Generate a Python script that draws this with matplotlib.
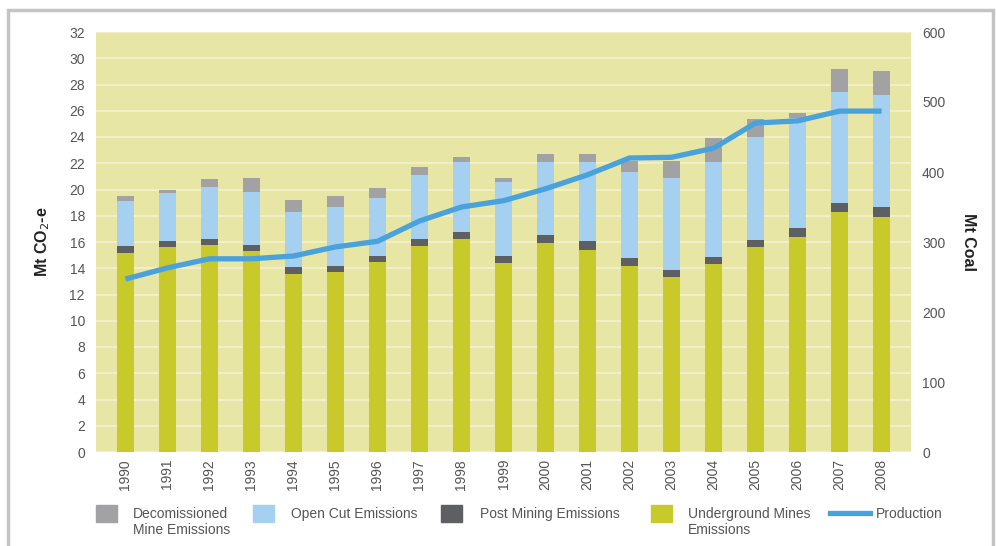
import matplotlib.pyplot as plt
from matplotlib.patches import Rectangle
from matplotlib.lines import Line2D
import numpy as np

plt.rcParams['font.family'] = ['Liberation Sans', 'DejaVu Sans']

years = [str(y) for y in range(1990, 2009)]
# stacked emission components (Mt CO2-e)
underground = [15.2, 15.6, 15.8, 15.3, 13.6, 13.7, 14.5, 15.7, 16.2, 14.4,
               15.9, 15.4, 14.2, 13.3, 14.3, 15.6, 16.4, 18.3, 17.9]
post_mining = [0.5, 0.45, 0.45, 0.45, 0.5, 0.5, 0.45, 0.5, 0.6, 0.5,
               0.6, 0.65, 0.6, 0.6, 0.55, 0.55, 0.65, 0.65, 0.75]
open_cut = [3.4, 3.65, 3.95, 4.05, 4.2, 4.5, 4.4, 4.9, 5.3, 5.7,
            5.6, 6.05, 6.5, 7.0, 7.25, 7.85, 8.4, 8.45, 8.55]
decommissioned = [0.4, 0.25, 0.6, 1.1, 0.9, 0.8, 0.75, 0.6, 0.4, 0.3,
                  0.6, 0.6, 0.9, 1.3, 1.8, 1.35, 0.35, 1.8, 1.8]
production = [247, 263, 276, 276, 280, 293, 301, 330, 350, 359,
              376, 396, 420, 421, 434, 470, 473, 487, 487]

legend_labels = ['Decomissioned\nMine Emissions', 'Open Cut Emissions',
                 'Post Mining Emissions', 'Underground Mines\nEmissions', 'Production']

c_ug = '#c8ca2c'
c_post = '#5e5f62'
c_open = '#a5d0ef'
c_decom = '#a2a2a4'
c_prod = '#4aa2dc'
c_text = '#555555'

fig = plt.figure(figsize=(9.96, 5.46), dpi=100)

# outer grey frame
fig.patches.append(Rectangle((8 / 996, -0.05), 985 / 996, 1.05 - 10 / 546, transform=fig.transFigure,
                             fill=False, edgecolor='#c4c4c4', lw=2.5))

ax = fig.add_axes([96 / 996, 94 / 546, 815 / 996, 420 / 546])
ax.set_facecolor('#e8e6a4')
for s in ax.spines.values():
    s.set_visible(False)

x = np.arange(len(years))
w = 0.42
b1 = np.array(underground)
b2 = b1 + np.array(post_mining)
b3 = b2 + np.array(open_cut)
ax.bar(x, underground, w, color=c_ug, zorder=2)
ax.bar(x, post_mining, w, bottom=b1, color=c_post, zorder=2)
ax.bar(x, open_cut, w, bottom=b2, color=c_open, zorder=2)
ax.bar(x, decommissioned, w, bottom=b3, color=c_decom, zorder=2)

ax.set_xlim(-0.7, len(years) - 0.3)
ax.set_ylim(0, 32)
ax.set_yticks(range(0, 33, 2))
ax.set_xticks(x)
ax.set_xticklabels(years, rotation=90)
ax.yaxis.grid(True, color='#f4f2d0', lw=1.2, zorder=0)
ax.tick_params(length=0, labelsize=10, colors=c_text, pad=8)
ax.tick_params(axis='x', pad=5)
ax.set_ylabel('Mt CO$_2$-e', fontsize=11.5, fontweight='bold', color='#222222', labelpad=12)

ax2 = ax.twinx()
for s in ax2.spines.values():
    s.set_visible(False)
ax2.plot(x, production, color=c_prod, lw=3.8, solid_joinstyle='round', solid_capstyle='butt', zorder=3)
ax2.set_ylim(0, 600)
ax2.set_yticks(range(0, 601, 100))
ax2.tick_params(length=0, labelsize=10, colors=c_text, pad=8)
ax2.set_ylabel('Mt Coal', fontsize=11.5, fontweight='bold', color='#222222', rotation=270, labelpad=22)

# legend along the bottom
ly = 1 - 514 / 546
sq = 21
items = [(96, 133, c_decom), (253, 291, c_open), (441, 480, c_post), (651, 688, c_ug)]
for (hx, tx, col), lab in zip(items, legend_labels[:4]):
    fig.patches.append(Rectangle((hx / 996, ly - 8 / 546), sq / 996, 17 / 546,
                                 transform=fig.transFigure, color=col))
    fig.text(tx / 996, ly + 7 / 546, lab, ha='left', va='top', fontsize=10, color=c_text,
             linespacing=1.2)
fig.add_artist(Line2D([830 / 996, 870 / 996], [ly + 1 / 546, ly + 1 / 546], transform=fig.transFigure,
                      color=c_prod, lw=3.8))
fig.text(876 / 996, ly + 7 / 546, legend_labels[4], ha='left', va='top', fontsize=10, color=c_text)

fig.savefig('out.png', dpi=100)
